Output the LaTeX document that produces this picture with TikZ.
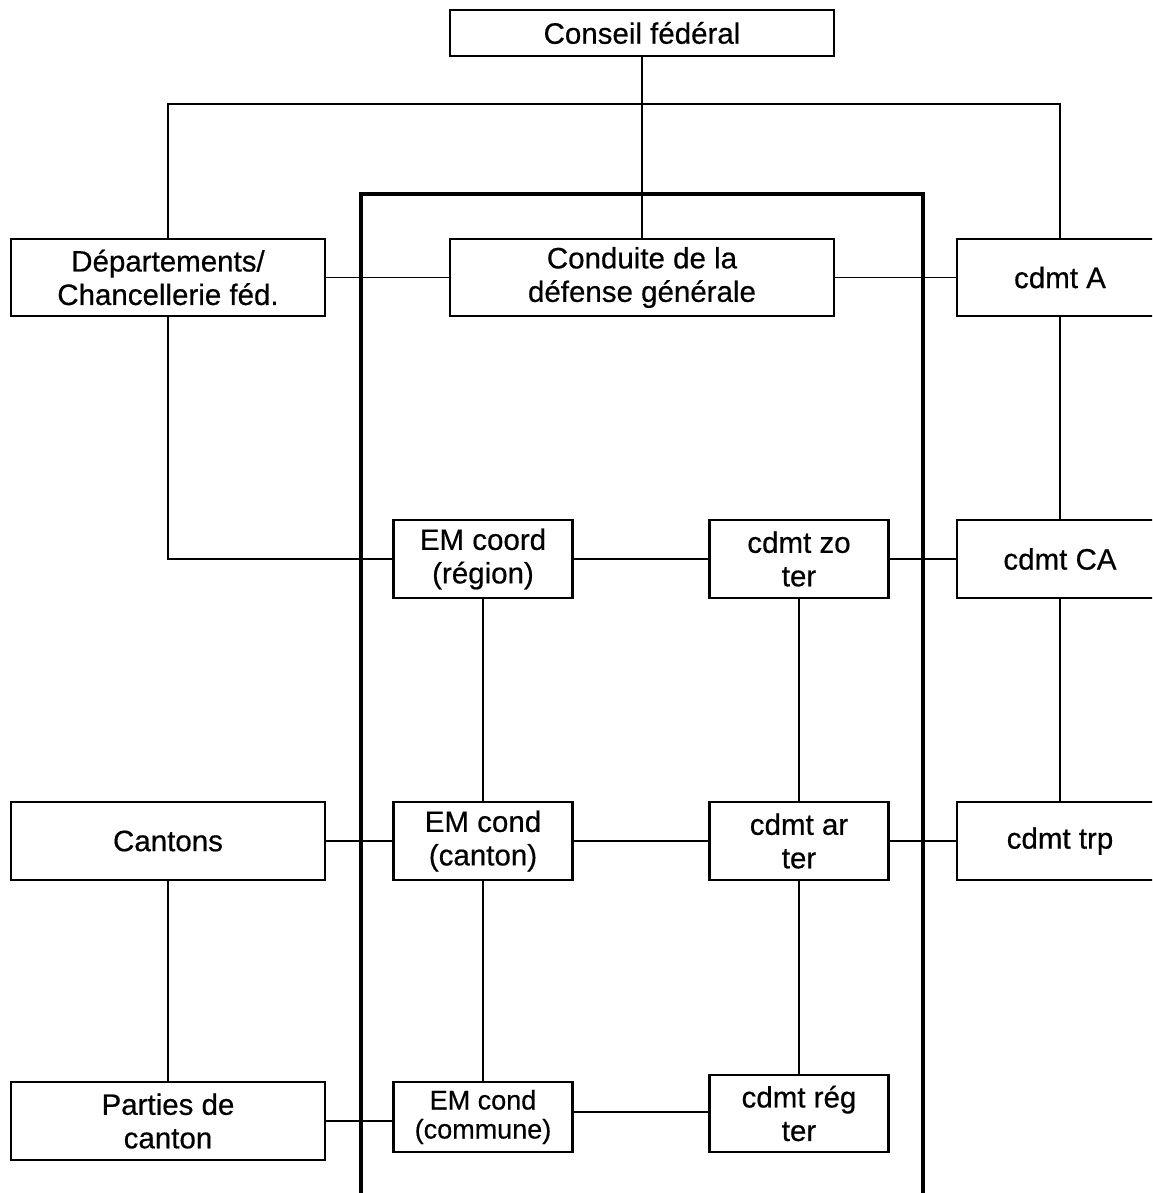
\documentclass[tikz,border=0pt]{standalone}
\usepackage{fontspec}
\newfontfamily\boxfont[FakeBold=0.5]{Liberation Sans}
\begin{document}
\begin{tikzpicture}[x=1pt,y=-1pt,
  box/.style={draw, line width=2.4pt, fill=white, inner sep=0pt, align=center,
    font=\boxfont\fontsize{29.5}{33.5}\selectfont},
  wide/.style={minimum width=384pt},
  side/.style={minimum width=314pt},
  mid/.style={minimum width=179pt},
  far/.style={minimum width=206pt},
  link/.style={line width=1.9pt},
  frame/.style={line width=3.4pt}]
\useasboundingbox (0,0) rectangle (1152,1193);
\clip (0,0) rectangle (1152,1193);
% inner frame
\draw[frame] (361,194) rectangle (923,1200);
% nodes
\node[box,wide,minimum height=46pt] (conseil) at (642,33) {Conseil fédéral};
\node[box,side,minimum height=77pt] (dep) at (168,277.5) {Départements/\\Chancellerie féd.};
\node[box,wide,minimum height=77pt] (conduite) at (642,277.5) {Conduite de la\\défense générale};
\node[box,far,minimum height=77pt] (cdmtA) at (1060,277.5) {cdmt A};
\node[box,mid,minimum height=78pt] (emcoord) at (483,559) {EM coord\\(région)};
\node[box,mid,minimum height=78pt] (zoter) at (799,559) {cdmt zo\\ter};
\node[box,far,minimum height=78pt] (cdmtCA) at (1060,559) {cdmt CA};
\node[box,side,minimum height=78pt] (cantons) at (168,841) {Cantons};
\node[box,mid,minimum height=78pt] (emcanton) at (483,841) {EM cond\\(canton)};
\node[box,mid,minimum height=78pt] (arter) at (799,841) {cdmt ar\\ter};
\node[box,far,minimum height=78pt] (trp) at (1060,841) {cdmt trp};
\node[box,side,minimum height=78pt] (parties) at (168,1121) {Parties de\\canton};
\node[box,mid,minimum height=70pt,font=\boxfont\fontsize{27}{29}\selectfont] (emcommune) at (483,1117) {EM cond\\(commune)};
\node[box,mid,minimum height=77pt] (regter) at (799,1113.5) {cdmt rég\\ter};
% connectors
\coordinate (busL) at (168,104);
\coordinate (busR) at (1060,104);
\draw[link] (conseil.south) -- (conduite.north);
\draw[link] (dep.north) -- (busL) -- (busR) -- (cdmtA.north);
\draw[link] (dep.east) -- (conduite.west);
\draw[link] (conduite.east) -- (cdmtA.west);
\draw[link] (dep.south) |- (emcoord.west);
\draw[link] (emcoord.east) -- (zoter.west);
\draw[link] (zoter.east) -- (cdmtCA.west);
\draw[link] (cdmtA.south) -- (cdmtCA.north);
\draw[link] (emcoord.south) -- (emcanton.north);
\draw[link] (zoter.south) -- (arter.north);
\draw[link] (cdmtCA.south) -- (trp.north);
\draw[link] (cantons.east) -- (emcanton.west);
\draw[link] (emcanton.east) -- (arter.west);
\draw[link] (arter.east) -- (trp.west);
\draw[link] (cantons.south) -- (parties.north);
\draw[link] (emcanton.south) -- (emcommune.north);
\draw[link] (arter.south) -- (regter.north);
\draw[link] (parties.east) -- (parties.east -| emcommune.west);
\draw[link] ([yshift=1.5pt]regter.west) -- ([yshift=1.5pt]regter.west -| emcommune.east);
\end{tikzpicture}
\end{document}
